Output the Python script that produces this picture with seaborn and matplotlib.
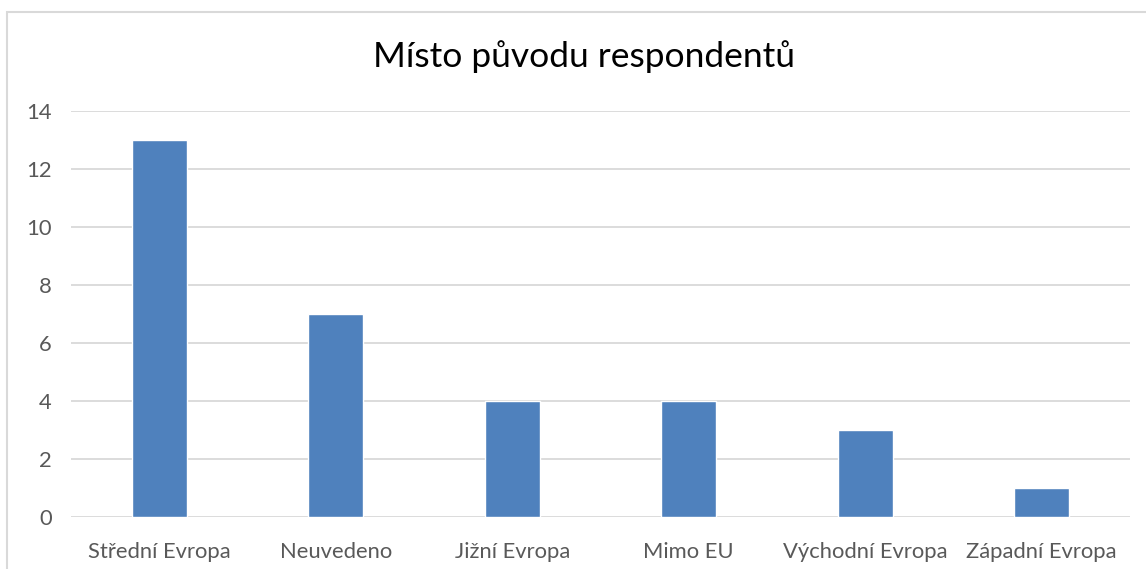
import matplotlib
matplotlib.use("Agg")
import matplotlib.pyplot as plt
import seaborn as sns
import pandas as pd
from matplotlib.patches import Rectangle

categories = ["Střední Evropa", "Neuvedeno", "Jižní Evropa", "Mimo EU", "Východní Evropa", "Západní Evropa"]
values = [13, 7, 4, 4, 3, 1]
yticks = [0, 2, 4, 6, 8, 10, 12, 14]
title = "Místo původu respondentů"

sns.set_theme(style="white")
plt.rcParams['font.family'] = ['Lato', 'DejaVu Sans']

W, H = 1146, 569
fig = plt.figure(figsize=(W/100, H/100), dpi=100)
ax = fig.add_axes([71/W, 1-517/H, (1130-71)/W, (517-111)/H])

df = pd.DataFrame({"cat": categories, "val": values})
sns.barplot(data=df, x="cat", y="val", color="#4f81bd", saturation=1, width=0.31, ax=ax, zorder=3)

ax.set_ylim(0, 14)
ax.set_yticks(yticks)
ax.set_yticklabels([str(t) for t in yticks])
ax.set_xlim(-0.5, len(categories)-0.5)
ax.yaxis.grid(True, color="#d9d9d9", linewidth=1.3, zorder=0)
ax.set_axisbelow(True)
for s in ax.spines.values():
    s.set_visible(False)
ax.set_xlabel("")
ax.set_ylabel("")
ax.tick_params(axis="both", length=0, labelsize=15.8, labelcolor="#595959")
ax.tick_params(axis="y", pad=14)
ax.tick_params(axis="x", pad=18)

fig.text(584/W, 1-57/H, title, ha="center", va="center", fontsize=25.5, color="#000000")

fig.patches.append(Rectangle((7/W, -0.1), 1.2, 1-12/H+0.1, transform=fig.transFigure,
                             fill=False, edgecolor="#d9d9d9", linewidth=1.5, figure=fig))

fig.savefig("out.png", dpi=100)
